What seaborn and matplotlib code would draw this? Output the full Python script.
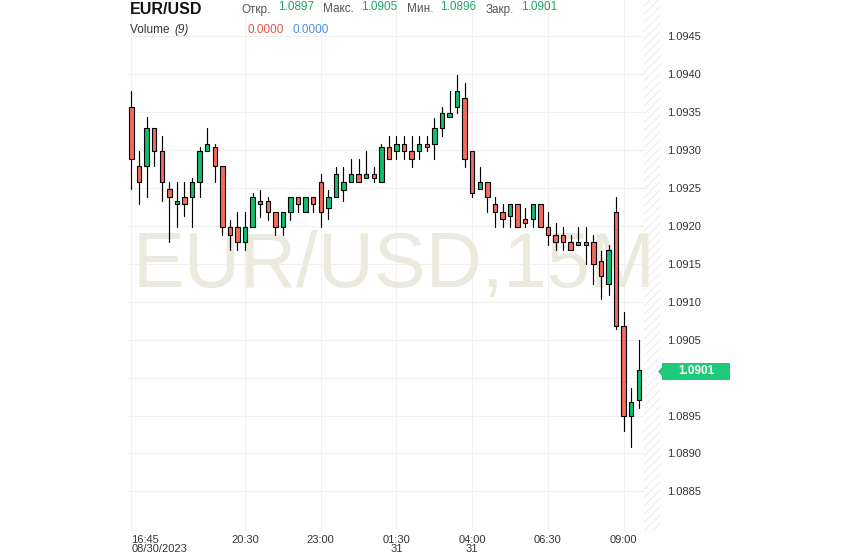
import matplotlib
matplotlib.use("Agg")
import matplotlib.pyplot as plt
from matplotlib.patches import Polygon
import seaborn as sns
import pandas as pd
import numpy as np

# ---- data (EUR/USD, 15 min candles, 16:45 08/30 .. 09:30 08/31) ----
opens = [1.09357, 1.09279, 1.09279, 1.09329, 1.09298, 1.09248, 1.09229, 1.09238, 1.09238, 1.09258,
         1.09298, 1.09304, 1.09279, 1.09198, 1.09198, 1.09179, 1.09198, 1.09233, 1.09233, 1.09218,
         1.09198, 1.09218, 1.09238, 1.09218, 1.09238, 1.09258, 1.09223, 1.09238, 1.09247, 1.09258,
         1.09268, 1.09263, 1.09268, 1.09258, 1.09304, 1.09298, 1.09308, 1.09299, 1.09298, 1.09308,
         1.09308, 1.09329, 1.09343, 1.09357, 1.09368, 1.09298, 1.09248, 1.09258, 1.09229, 1.09218,
         1.09213, 1.09229, 1.09209, 1.09209, 1.09229, 1.09198, 1.09188, 1.09188, 1.09179, 1.09174,
         1.09179, 1.09179, 1.09154, 1.09123, 1.09218, 1.09068, 1.08949, 1.08970]
highs = [1.09378, 1.09299, 1.09343, 1.09329, 1.09318, 1.09258, 1.09258, 1.09258, 1.09263, 1.09304,
         1.09329, 1.09308, 1.09279, 1.09208, 1.09218, 1.09218, 1.09243, 1.09247, 1.09238, 1.09218,
         1.09218, 1.09238, 1.09238, 1.09238, 1.09238, 1.09268, 1.09247, 1.09278, 1.09278, 1.09288,
         1.09288, 1.09298, 1.09278, 1.09308, 1.09318, 1.09318, 1.09318, 1.09318, 1.09318, 1.09318,
         1.09342, 1.09357, 1.09377, 1.09398, 1.09388, 1.09298, 1.09278, 1.09258, 1.09238, 1.09229,
         1.09229, 1.09229, 1.09223, 1.09229, 1.09229, 1.09218, 1.09204, 1.09198, 1.09188, 1.09198,
         1.09198, 1.09188, 1.09167, 1.09174, 1.09238, 1.09086, 1.08986, 1.09050]
lows = [1.09249, 1.09229, 1.09238, 1.09279, 1.09233, 1.09179, 1.09198, 1.09213, 1.09198, 1.09238,
        1.09298, 1.09258, 1.09188, 1.09168, 1.09168, 1.09168, 1.09198, 1.09212, 1.09208, 1.09188,
        1.09188, 1.09208, 1.09218, 1.09218, 1.09218, 1.09198, 1.09209, 1.09238, 1.09232, 1.09258,
        1.09258, 1.09263, 1.09258, 1.09258, 1.09288, 1.09288, 1.09288, 1.09278, 1.09288, 1.09298,
        1.09288, 1.09318, 1.09343, 1.09348, 1.09278, 1.09238, 1.09248, 1.09218, 1.09198, 1.09198,
        1.09198, 1.09198, 1.09198, 1.09198, 1.09198, 1.09174, 1.09168, 1.09168, 1.09168, 1.09174,
        1.09149, 1.09123, 1.09104, 1.09109, 1.09064, 1.08929, 1.08909, 1.08960]
closes = [1.09288, 1.09258, 1.09329, 1.09299, 1.09258, 1.09238, 1.09233, 1.09229, 1.09258, 1.09298,
          1.09308, 1.09279, 1.09198, 1.09188, 1.09179, 1.09198, 1.09238, 1.09229, 1.09218, 1.09198,
          1.09218, 1.09238, 1.09229, 1.09238, 1.09229, 1.09218, 1.09238, 1.09268, 1.09258, 1.09268,
          1.09258, 1.09268, 1.09263, 1.09304, 1.09288, 1.09308, 1.09298, 1.09288, 1.09308, 1.09304,
          1.09329, 1.09348, 1.09348, 1.09377, 1.09288, 1.09243, 1.09258, 1.09238, 1.09218, 1.09209,
          1.09229, 1.09198, 1.09204, 1.09229, 1.09198, 1.09188, 1.09179, 1.09179, 1.09168, 1.09179,
          1.09174, 1.09149, 1.09134, 1.09168, 1.09068, 1.08949, 1.08968, 1.09010]

tick_positions = [0, 15, 25, 35, 45, 55, 65]
tick_labels = ["16:45\n08/30/2023", "20:30", "23:00", "01:30\n31", "04:00\n31", "06:30", "09:00"]
price_ticks = [1.0885, 1.0890, 1.0895, 1.0900, 1.0905, 1.0910, 1.0915, 1.0920,
               1.0925, 1.0930, 1.0935, 1.0940, 1.0945]
hidden_tick = 1.0900  # covered by the last-price marker

symbol = "EUR/USD"
ohlc_names = ["Откр.", "Макс.", "Мин.", "Закр."]
ohlc_values = ["1.0897", "1.0905", "1.0896", "1.0901"]
last_price = "1.0901"
watermark = "EUR/USD,15M"

# ---- style ----
sns.set_theme(style="white")
plt.rcParams["font.family"] = ["Liberation Sans", "DejaVu Sans"]
plt.rcParams["hatch.linewidth"] = 0.7

W, H = 843, 558
fig = plt.figure(figsize=(W / 100, H / 100), dpi=100)
fig.patch.set_facecolor("white")

def fx(px):
    return px / W

def fy(py):
    return 1 - py / H

ax_left, ax_right, ax_top, ax_bottom = 128, 660, 0, 531
ax = fig.add_axes([fx(ax_left), fy(ax_bottom), fx(ax_right - ax_left), (ax_bottom - ax_top) / H])
ax.set_facecolor("white")

RED = "#f26a5c"
GREEN = "#10be6d"

n = len(opens)
idx = np.arange(n)
df = pd.DataFrame({"idx": idx, "open": opens, "high": highs, "low": lows, "close": closes})

# wicks via seaborn lineplot (one unit per candle)
wick_df = pd.concat([
    pd.DataFrame({"idx": idx, "price": lows}),
    pd.DataFrame({"idx": idx, "price": highs}),
])
sns.lineplot(data=wick_df, x="idx", y="price", units="idx", estimator=None,
             color="black", linewidth=0.85, ax=ax, legend=False, zorder=2)

# bodies
body_bottom = np.minimum(df["open"], df["close"])
body_height = np.abs(df["close"] - df["open"])
colors = [GREEN if c >= o else RED for o, c in zip(opens, closes)]
ax.bar(df["idx"], body_height, bottom=body_bottom, width=0.58, color=colors,
       edgecolor="black", linewidth=0.8, zorder=3)

# axes limits
ax.set_xlim(-0.46, 69.8)
ax.set_ylim(1.0945 - 495 / 75900, 1.0945 + 36 / 75900)

# hatched future area
ax.axvspan(67.7, 69.8, facecolor="white", edgecolor="#ececec", hatch="////", lw=0, zorder=1)

# grid
ax.set_xticks(tick_positions)
ax.set_yticks(price_ticks)
ax.grid(True, color="#f0f0f0", linewidth=0.8)
ax.set_axisbelow(True)
for s in ax.spines.values():
    s.set_visible(False)

ax.yaxis.tick_right()
ax.set_yticklabels(["" if abs(v - hidden_tick) < 1e-9 else f"{v:.4f}" for v in price_ticks])
ax.tick_params(axis="y", length=0, pad=5, labelsize=8, labelcolor="#333333")
ax.set_xticklabels(tick_labels)
ax.tick_params(axis="x", length=0, pad=3, labelsize=8, labelcolor="#333333")
for i, lab in enumerate(ax.get_xticklabels()):
    lab.set_linespacing(0.9)
    if i == 0:
        lab.set_horizontalalignment("left")
        lab.set_multialignment("left")
ax.set_xlabel("")
ax.set_ylabel("")

# watermark
ax.text(fx(394), fy(287), watermark, transform=fig.transFigure, ha="center", va="baseline",
        fontsize=56, color="#ece9df", zorder=1.5)

# header
fig.text(fx(130), fy(14), symbol, fontsize=11.5, fontweight="bold", color="#111111", va="baseline")
label_x = [241.5, 323, 407, 486]
value_x = [278, 361.5, 440.5, 521.5]
for lx, vx, name, val in zip(label_x, value_x, ohlc_names, ohlc_values):
    fig.text(fx(lx), fy(12.5), name, fontsize=8.5, color="#555555", va="baseline")
    fig.text(fx(vx), fy(10), val, fontsize=8.5, color="#1fa463", va="baseline")
fig.text(fx(130), fy(33), "Volume ", fontsize=8.5, color="#333333", va="baseline")
fig.text(fx(174), fy(33), "(9)", fontsize=8.5, color="#333333", va="baseline", style="italic")
fig.text(fx(247.5), fy(33), "0.0000", fontsize=8.5, color="#e5534b", va="baseline")
fig.text(fx(292.5), fy(33), "0.0000", fontsize=8.5, color="#4a8fe7", va="baseline")

# last price marker
pts = [(658, 371.5), (662, 367), (662, 363), (730, 363), (730, 380), (662, 380), (662, 376)]
poly = Polygon([(fx(x), fy(y)) for x, y in pts], closed=True, transform=fig.transFigure,
               facecolor="#1ec97a", edgecolor="none", zorder=5)
fig.patches.append(poly)
fig.text(fx(696), fy(371.5), last_price, fontsize=8.5, fontweight="bold", color="white",
         ha="center", va="center", zorder=6)

fig.savefig("out.png", dpi=100, facecolor="white")
